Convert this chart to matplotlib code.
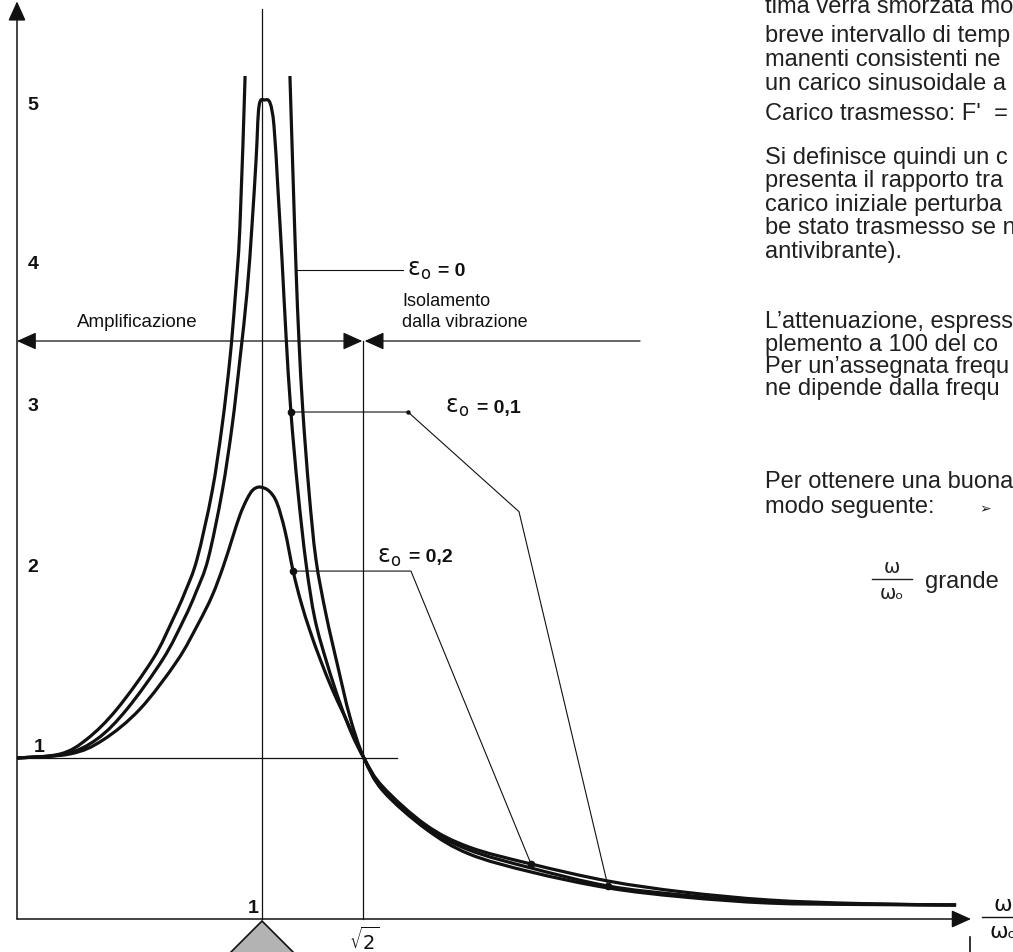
import numpy as np
import matplotlib
matplotlib.use("Agg")
import matplotlib.pyplot as plt
from matplotlib.patches import Polygon, PathPatch
from matplotlib.path import Path
from matplotlib.lines import Line2D

plt.rcParams['font.family'] = ['Liberation Sans', 'DejaVu Sans']
plt.rcParams['mathtext.fontset'] = 'dejavusans'

# ---------------- data ----------------
# x = omega/omega0 , y = transmissibility
r_eps0_left = [0.000, 0.176, 0.286, 0.408, 0.555, 0.637, 0.686, 0.735, 0.796, 0.837, 0.869, 0.890, 0.910, 0.931]
T_eps0_left = [1.000, 1.025, 1.118, 1.304, 1.615, 1.863, 2.031, 2.236, 2.652, 3.062, 3.478, 3.851, 4.304, 5.236]

r_eps0_right = [1.114, 1.127, 1.139, 1.151, 1.167, 1.192, 1.220, 1.261, 1.310, 1.359, 1.416,
                1.494, 1.669, 1.845, 2.098, 2.412, 2.718, 3.069, 3.441, 3.833]
T_eps0_right = [5.236, 4.596, 4.037, 3.590, 3.149, 2.652, 2.236, 1.894, 1.565, 1.255, 1.000,
                0.795, 0.559, 0.404, 0.292, 0.193, 0.137, 0.099, 0.090, 0.087]

r_eps01 = [0.000, 0.196, 0.327, 0.449, 0.596, 0.682, 0.731, 0.780, 0.837, 0.878, 0.910, 0.939,
           0.959, 0.976, 0.988, 1.012, 1.033, 1.049, 1.065, 1.082, 1.098, 1.118, 1.147, 1.180,
           1.216, 1.265, 1.318, 1.367, 1.416, 1.494, 1.669, 1.845, 2.098, 2.412, 2.718, 3.069,
           3.441, 3.833]
T_eps01 = [1.000, 1.025, 1.118, 1.304, 1.615, 1.863, 2.031, 2.236, 2.652, 3.062, 3.478, 3.894,
           4.304, 4.720, 5.050, 5.087, 5.068, 4.925, 4.534, 4.087, 3.627, 3.149, 2.652, 2.205,
           1.863, 1.590, 1.342, 1.149, 1.000, 0.807, 0.571, 0.429, 0.317, 0.205, 0.149, 0.106,
           0.093, 0.087]

r_eps02 = [0.000, 0.216, 0.351, 0.502, 0.653, 0.739, 0.796, 0.841, 0.878, 0.910, 0.939, 0.963,
           0.992, 1.029, 1.061, 1.094, 1.127, 1.159, 1.196, 1.237, 1.286, 1.335, 1.416,
           1.494, 1.669, 1.845, 2.098, 2.412, 2.718, 3.069, 3.441, 3.833]
T_eps02 = [1.000, 1.025, 1.112, 1.304, 1.602, 1.832, 2.006, 2.186, 2.360, 2.509, 2.609, 2.665,
           2.683, 2.658, 2.584, 2.410, 2.161, 1.969, 1.789, 1.615, 1.429, 1.267, 1.000,
           0.820, 0.584, 0.447, 0.342, 0.236, 0.168, 0.118, 0.096, 0.087]

# leader lines (label callouts): waypoints in data units
lead_eps0 = ([1.139, 1.576], [4.03, 4.03])
lead_eps01 = ([1.118, 1.596, 2.049, 2.412], [3.149, 3.149, 2.53, 0.205])
lead_eps02 = ([1.127, 1.608, 2.098], [2.161, 2.161, 0.342])

ytick_labels = ['1', '2', '3', '4', '5']
eps_values = ['0', '0,1', '0,2']

x_resonance = 1.0
x_sqrt2 = np.sqrt(2.0)

# ---------------- layout ----------------
W, H = 1013, 953
PXX, PXY = 245.0, 161.0          # pixels per unit
X0, Y0 = 17.0, 920.0             # pixel position of the origin

fig = plt.figure(figsize=(W / 100, H / 100), dpi=100)
ax = fig.add_axes([0, 0, 1, 1])
ax.set_xlim(-X0 / PXX, (W - X0) / PXX)
ax.set_ylim((Y0 - H) / PXY, Y0 / PXY)
ax.axis('off')

ink = '#111111'
txt = '#202020'
thin = 0.9
thick = 2.3


def smooth_curve(xs, ys, **kw):
    """Draw a smooth (Catmull-Rom as cubic Bezier) line through the read points."""
    pts = ax.transData.transform(np.column_stack([xs, ys]))
    verts = [pts[0]]
    codes = [Path.MOVETO]
    n = len(pts)
    for i in range(n - 1):
        p0 = pts[i - 1] if i > 0 else pts[i]
        p1, p2 = pts[i], pts[i + 1]
        p3 = pts[i + 2] if i + 2 < n else pts[i + 1]
        verts += [p1 + (p2 - p0) / 6.0, p2 - (p3 - p1) / 6.0, p2]
        codes += [Path.CURVE4] * 3
    verts = ax.transData.inverted().transform(np.array(verts))
    patch = PathPatch(Path(verts, codes), fill=False, transform=ax.transData,
                      capstyle='butt', joinstyle='round', **kw)
    ax.add_patch(patch)


# axes with arrows
arrow_style = '-|>,head_length=0.6,head_width=0.27'
ax.annotate('', xy=(0, 5.70), xytext=(0, 0),
            arrowprops=dict(arrowstyle=arrow_style, color=ink, lw=1.1,
                            shrinkA=0, shrinkB=0, mutation_scale=20))
ax.annotate('', xy=(3.894, 0), xytext=(0, 0),
            arrowprops=dict(arrowstyle=arrow_style, color=ink, lw=1.1,
                            shrinkA=0, shrinkB=0, mutation_scale=20))

# guide lines
ax.plot([x_resonance, x_resonance], [0, 5.65], color=ink, lw=thin)
ax.plot([x_sqrt2, x_sqrt2], [0, 3.59], color=ink, lw=thin)
ax.plot([0, 1.551], [1, 1], color=ink, lw=thin)

# amplification / isolation arrows
ax.annotate('', xy=(0, 3.59), xytext=(x_sqrt2 - 0.005, 3.59),
            arrowprops=dict(arrowstyle='<|-|>,head_length=0.6,head_width=0.27', color=ink,
                            lw=thin, shrinkA=0, shrinkB=0, mutation_scale=20))
ax.annotate('', xy=(x_sqrt2 + 0.005, 3.59), xytext=(2.543, 3.59),
            arrowprops=dict(arrowstyle=arrow_style, color=ink, lw=thin,
                            shrinkA=0, shrinkB=0, mutation_scale=20))

# curves
for xs, ys in [(r_eps0_left, T_eps0_left), (r_eps0_right, T_eps0_right),
               (r_eps01, T_eps01), (r_eps02, T_eps02)]:
    smooth_curve(xs, ys, edgecolor=ink, lw=thick)

# leader lines and dots
for xs, ys in [lead_eps0, lead_eps01, lead_eps02]:
    ax.plot(xs, ys, color=ink, lw=0.8)
for xs, ys in [lead_eps01, lead_eps02]:
    ax.plot([xs[0], xs[-1]], [ys[0], ys[-1]], 'o', color=ink, ms=4.5, lw=0)
ax.plot(lead_eps01[0][1], lead_eps01[1][1], 'o', color=ink, ms=2.2)

# epsilon labels
eps_pos = [(1.590, 4.03), (1.747, 3.18), (1.469, 2.25)]
for (ex, ey), val in zip(eps_pos, eps_values):
    ax.text(ex, ey, r'$\mathrm{\varepsilon}_{\mathrm{o}}$', fontsize=17, va='center',
            ha='left', color=ink)
    ax.annotate('= ' + val, xy=(ex, ey), xytext=(23, 0), textcoords='offset points',
                fontsize=14, fontweight='bold', va='center', ha='left', color=ink)

# region labels
ax.text(0.490, 3.71, 'Amplificazione', fontsize=13.5, ha='center', va='center', color=ink)
ax.text(1.571, 3.84, 'Isolamento', fontsize=13, ha='left', va='center', color=ink)
ax.text(1.571, 3.71, 'dalla vibrazione', fontsize=13, ha='left', va='center', color=ink)

# y tick labels (as printed)
ytick_pos = [(0.09, 1.07), (0.065, 2.19), (0.065, 3.19), (0.065, 4.07), (0.065, 5.06)]
for (tx, ty), lab in zip(ytick_pos, ytick_labels):
    ax.text(tx, ty, lab, fontsize=14, fontweight='bold', ha='center', va='center', color=ink)

# x labels
ax.annotate('1', xy=(x_resonance, 0), xytext=(-6.5, 2), textcoords='offset points',
            fontsize=14, fontweight='bold', ha='center', va='bottom', color=ink)
ax.annotate(r'$\sqrt{2}$', xy=(x_sqrt2, 0), xytext=(1, -5), textcoords='offset points',
            fontsize=14, ha='center', va='top', color=ink)

# grey support diamond under the resonance
dw, dh = 44 / PXX, 44 / PXY
apex = -2 / PXY
ax.add_patch(Polygon([(x_resonance, apex), (x_resonance + dw, apex - dh),
                      (x_resonance, apex - 2 * dh), (x_resonance - dw, apex - dh)],
                     closed=True, facecolor='#b3b3b3', edgecolor=ink, lw=1.2))


def omega_fraction(xc, ybar, half, size, color):
    """omega / omega_o written as a stacked fraction, position in figure pixels."""
    fig.text(xc / W, 1 - (ybar - 3) / H, '\u03c9', fontsize=size, ha='center', va='bottom',
             color=color, family=['DejaVu Sans'])
    fig.add_artist(Line2D([(xc - half) / W, (xc + half) / W], [1 - ybar / H, 1 - ybar / H],
                          color=color, lw=1.0))
    fig.text(xc / W, 1 - (ybar + 4) / H, '\u03c9\u2092', fontsize=size, ha='center', va='top',
             color=color, family=['DejaVu Sans'])


# axis quantity label (cut at page edge)
omega_fraction(1003, 918, 21, 16, ink)
fig.add_artist(Line2D([970 / W, 970 / W], [1 - 938 / H, 0], color=ink, lw=1.2))

# ---------------- page text on the right ----------------
page_lines = [
    (13, 'tima verrà smorzata mo'),
    (42, 'breve intervallo di temp'),
    (66, 'manenti consistenti ne'),
    (90, 'un carico sinusoidale a'),
    (120, "Carico trasmesso: F'  ="),
    (164, 'Si definisce quindi un c'),
    (187, 'presenta il rapporto tra'),
    (211, 'carico iniziale perturba'),
    (234, 'be stato trasmesso se n'),
    (258, 'antivibrante).'),
    (328, 'L\u2019attenuazione, espress'),
    (351, 'plemento a 100 del co'),
    (373, 'Per un\u2019assegnata frequ'),
    (395, 'ne dipende dalla frequ'),
    (488, 'Per ottenere una buona'),
    (513, 'modo seguente:'),
]
for yb, s in page_lines:
    fig.text(765 / W, 1 - yb / H, s, fontsize=17, ha='left', va='baseline', color=txt)
fig.text(985 / W, 1 - 509 / H, '\u27a2', fontsize=10, ha='center', va='center',
         color=txt, family=['DejaVu Sans'])
omega_fraction(892, 580, 20, 14, txt)
fig.text(925 / W, 1 - 588 / H, 'grande', fontsize=17, ha='left', va='baseline', color=txt)

fig.savefig('out.png', dpi=100, facecolor='white')
